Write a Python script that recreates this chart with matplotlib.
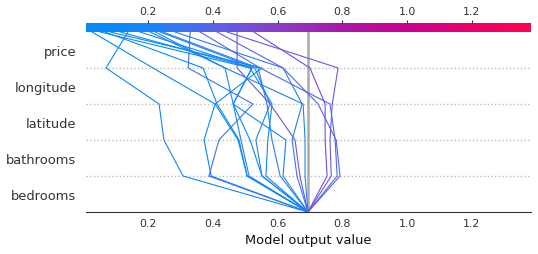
import numpy as np
import matplotlib
matplotlib.use("Agg")
import matplotlib.pyplot as plt
from matplotlib.colors import LinearSegmentedColormap, Normalize
from matplotlib.cm import ScalarMappable

features = ["bedrooms", "bathrooms", "latitude", "longitude", "price"]
base_value = 0.694
x_lim = (0.0085, 1.383)

# cumulative model output after each feature (bottom -> top), one entry per observation
out_bedrooms = [0.308, 0.395, 0.388, 0.506, 0.512, 0.552, 0.564, 0.608, 0.660,
                0.669, 0.685, 0.753, 0.766, 0.784, 0.793, 0.552, 0.617, 0.506]
out_bathrooms = [0.249, 0.373, 0.419, 0.481, 0.487, 0.533, 0.570, 0.583, 0.645,
                 0.654, 0.685, 0.747, 0.762, 0.778, 0.781, 0.515, 0.626, 0.478]
out_latitude = [0.234, 0.407, 0.524, 0.413, 0.463, 0.577, 0.583, 0.567, 0.676,
                0.577, 0.679, 0.747, 0.769, 0.762, 0.725, 0.463, 0.463, 0.407]
out_longitude = [0.070, 0.215, 0.324, 0.370, 0.438, 0.530, 0.515, 0.540, 0.617,
                 0.475, 0.438, 0.700, 0.787, 0.546, 0.617, 0.521, 0.521, 0.552]
out_price = [0.138, 0.027, 0.330, 0.067, 0.206, 0.237, 0.052, 0.246, 0.283,
             0.475, 0.222, 0.527, 0.444, 0.361, 0.413, 0.114, 0.175, 0.083]

# shap-like blue -> purple -> red map
cmap = LinearSegmentedColormap.from_list("shap_rb", [
    (0.0, "#008bfb"), (0.15, "#1a84f8"), (0.29, "#5c62ea"), (0.43, "#8a3cc8"),
    (0.58, "#ab16a8"), (0.72, "#cc0090"), (0.86, "#ea006c"), (1.0, "#ff0052")])
norm = Normalize(vmin=x_lim[0], vmax=x_lim[1])

fig = plt.figure(figsize=(5.38, 2.55), dpi=100)
ax = fig.add_axes([0.16, 0.1647, 0.827, 0.706])

levels = np.array([out_bedrooms, out_bathrooms, out_latitude, out_longitude, out_price])
ys = np.arange(len(features) + 1)
for i in range(levels.shape[1]):
    xs = np.concatenate([[base_value], levels[:, i]])
    ax.plot(xs, ys, color=cmap(norm(levels[-1, i])), lw=0.8, zorder=2)

for y in range(1, len(features)):
    ax.plot(x_lim, [y, y], ":", color="#bbbbbb", lw=1, zorder=0)
ax.axvline(base_value, color="#aaaaaa", lw=1.8, zorder=1)

ax.set_xlim(x_lim)
ax.set_ylim(0, len(features))
ax.set_yticks(np.arange(len(features)) + 0.5)
ax.set_yticklabels(features, fontsize=9.4, color="#333333")
ax.set_xticks([0.2, 0.4, 0.6, 0.8, 1.0, 1.2])
ax.tick_params(axis="x", labelsize=7.9, colors="#333333", length=0, pad=4)
ax.tick_params(axis="y", length=0, pad=7)
for s in ["left", "right", "top"]:
    ax.spines[s].set_visible(False)
ax.spines["bottom"].set_color("#333333")
ax.set_xlabel("Model output value", fontsize=9.4, color="#111111", labelpad=4)

cax = fig.add_axes([0.16, 0.8706, 0.827, 0.0353])
cb = fig.colorbar(ScalarMappable(norm=norm, cmap=cmap), cax=cax, orientation="horizontal",
                  ticks=[0.2, 0.4, 0.6, 0.8, 1.0, 1.2])
cb.outline.set_visible(False)
cax.xaxis.set_ticks_position("top")
cax.tick_params(labelsize=7.9, colors="#333333", length=2, pad=3)

fig.savefig("out.png", dpi=100)
